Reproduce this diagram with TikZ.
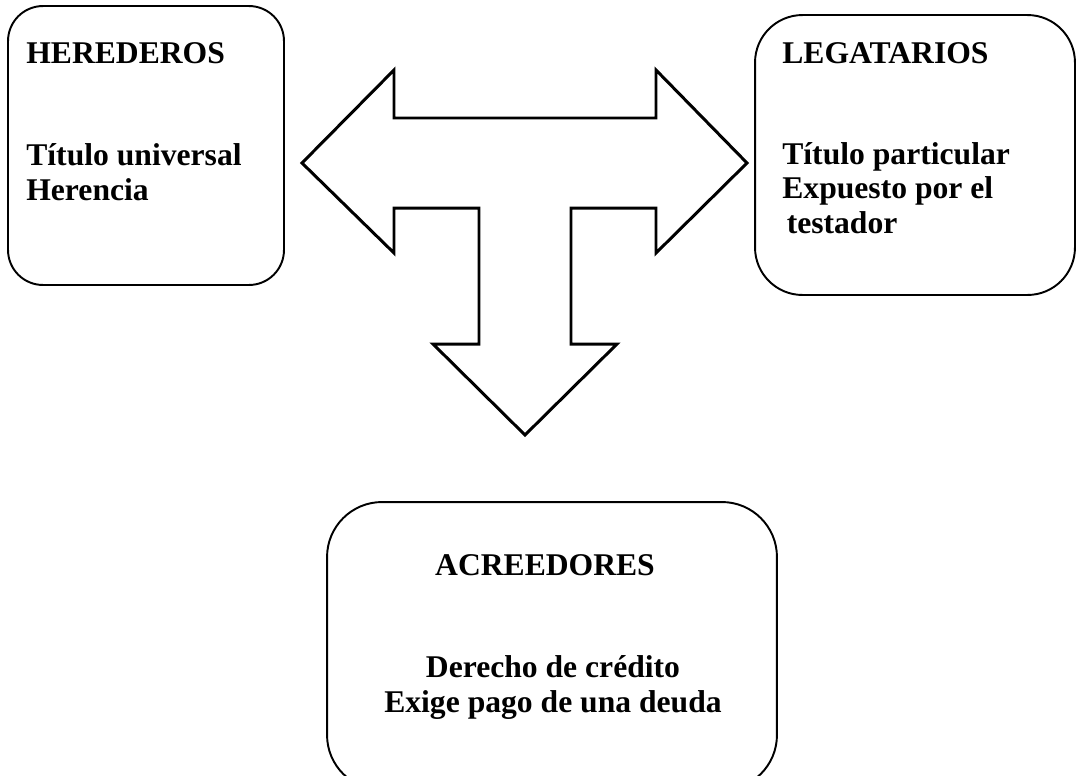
\documentclass[tikz,border=0pt]{standalone}
\usepackage{fontspec}
\setmainfont{Liberation Serif}
\usetikzlibrary{positioning}

\begin{document}
\begin{tikzpicture}[
            x=0.02cm, y=-0.02cm,
            box/.style={rectangle, draw, line width=1.1pt, rounded corners=#1},
            box/.default=0.7cm,
            txt/.style={anchor=base west, inner sep=0pt, align=left, font=\bfseries\fontsize{18}{19.6}\selectfont},
            bigarrow/.style={draw, line width=1.7pt, line join=miter}
        ]
        \useasboundingbox (0,0) rectangle (1076,775);

        \node[box=0.7cm, minimum width=5.52cm, minimum height=5.58cm] (herederos) at (146,145.5) {};
        \node[box=0.95cm, minimum width=6.4cm, minimum height=5.6cm] (legatarios) at (915,155) {};
        \node[box=1.1cm, minimum width=9cm, minimum height=5.76cm] (acreedores) at (552,646) {};

        \node[txt] (herT) at (26,63) {HEREDEROS};
        \node[txt] (herB) at (26,200) {Título universal\\Herencia};
        \node[txt] (legT) at (782,63) {LEGATARIOS};
        \node[txt] (legB) at (782,233) {Título particular\\Expuesto por el\\\hspace{2.5pt}testador};
        \node[txt, anchor=base] (acrT) at (545,575) {ACREEDORES};
        \node[txt, anchor=base, align=center] (acrB) at (553,712) {Derecho de crédito\\Exige pago de una deuda};

        % flecha en T
        \draw[bigarrow] (302,163) -- (394,70) -- (394,118) -- (656,118) -- (656,70) -- (747,163)
            -- (656,253) -- (656,208) -- (571,208) -- (571,344) -- (617,344) -- (525,435)
            -- (433,344) -- (479,344) -- (479,208) -- (394,208) -- (394,253) -- cycle;

    \end{tikzpicture}
\end{document}
